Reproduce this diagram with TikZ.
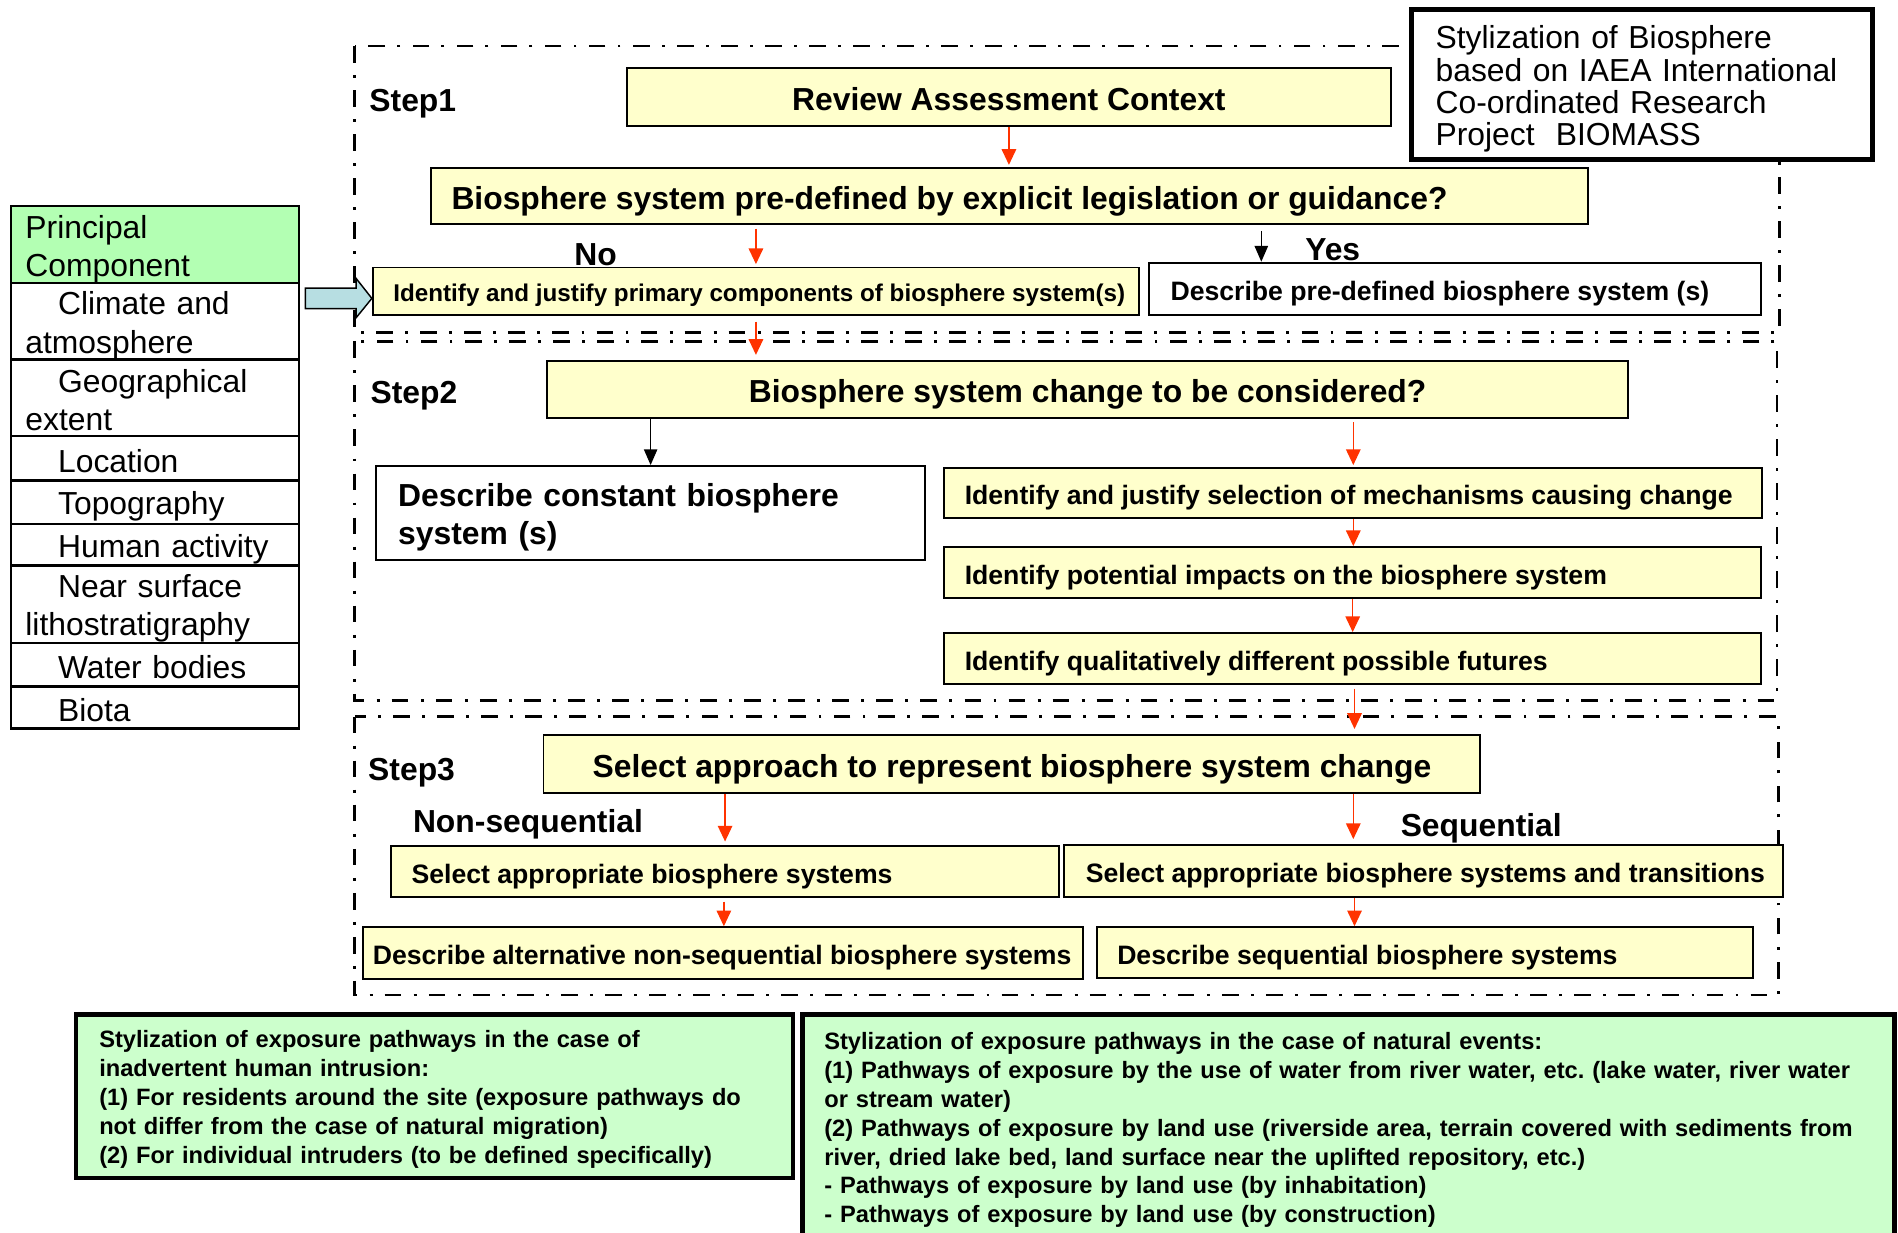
\documentclass[tikz,border=0pt]{standalone}
\usepackage{fontspec}
\setmainfont{Liberation Sans}
\usetikzlibrary{arrows.meta,calc}

\definecolor{boxyellow}{RGB}{255,255,204}
\definecolor{headgreen}{RGB}{179,255,179}
\definecolor{notegreen}{RGB}{204,255,204}
\definecolor{arrowred}{RGB}{255,51,0}
\definecolor{pointerblue}{RGB}{183,222,226}

\newcommand\sizeL{\fontsize{26.3}{31.5}\selectfont}
\newcommand\sizeM{\fontsize{22}{26}\selectfont}
\newcommand\sizeS{\fontsize{20}{24}\selectfont}
\newcommand\sizeN{\fontsize{19.55}{23.8}\selectfont}
% single line of text, left aligned in a box of fixed width
\newcommand\lalign[2]{\makebox[#1][l]{#2}}
% invisible struts setting the height of the first and the depth of the last line
\newcommand\tstr{\rule{0pt}{1.0em}}
\newcommand\bstr{\rule[-0.12em]{0pt}{0.12em}}
\frenchspacing

\begin{document}
\begin{tikzpicture}[x=1pt,y=-1pt,
  frame/.style={line width=2.4pt, dash pattern=on 13.8pt off 10.2pt on 2.4pt off 10pt},
  ybox/.style={draw, line width=1.6pt, fill=boxyellow, inner sep=0pt},
  wbox/.style={draw, line width=1.6pt, fill=white, inner sep=0pt},
  bigtxt/.style={font=\sizeL\bfseries, text height=25.8pt, text depth=3.6pt},
  midtxt/.style={font=\sizeM\bfseries, text height=21.9pt, text depth=2.7pt},
  smltxt/.style={font=\sizeS\bfseries, text height=20.1pt, text depth=2.2pt},
  lbl/.style={inner sep=0pt, font=\sizeL\bfseries, text height=25.8pt, text depth=3.6pt},
  pcrow/.style={draw, line width=2pt, fill=white, minimum width=238pt,
    text width=214pt, inner sep=0pt, align=left, font=\sizeL},
  notebox/.style={draw, line width=3.5pt, fill=notegreen, inner sep=0pt,
    align=left, font=\sizeN\bfseries},
  rarr/.style={draw=arrowred, line width=1.2pt, -{Triangle[length=13pt,width=12pt,fill=arrowred]}},
  barr/.style={draw=black, line width=1.2pt, -{Triangle[length=13pt,width=11pt]}},
]
\useasboundingbox (0,0) rectangle (1568,1018);

% step frames
\draw[frame] (293,38) rectangle (1470,275);
\draw[frame] (293,282) rectangle (1468,579);
\draw[frame] (293,592) rectangle (1469,822);

% title box
\node[draw, line width=4pt, fill=white, inner sep=0pt, minimum width=381pt,
  minimum height=124pt, text width=341pt, align=left,
  font=\fontsize{26.3}{26.7}\selectfont] (title) at (1356.5,70)
  {\tstr Stylization of Biosphere\\based on IAEA International\\Co-ordinated Research\\Project~ BIOMASS\bstr};

% step labels
\node[lbl, anchor=west] (s1) at (305,81) {Step1};
\node[lbl, anchor=west] (s2) at (306,322) {Step2};
\node[lbl, anchor=west] (s3) at (304,634) {Step3};

% step 1
\node[ybox, bigtxt, minimum width=631pt, minimum height=48pt] (review) at (833.5,80)
  {Review Assessment Context};
\node[ybox, bigtxt, minimum width=956pt, minimum height=46pt] (question) at (834,162)
  {\lalign{922pt}{Biosphere system pre-defined by explicit legislation or guidance?}};
\node[lbl] (no) at (492,208) {No};
\node[lbl] (yes) at (1101,204) {Yes};
\node[ybox, smltxt, minimum width=633pt, minimum height=39pt] (prim) at (624.5,240.5)
  {\lalign{599pt}{Identify and justify primary components of biosphere system(s)}};
\node[wbox, midtxt, minimum width=506pt, minimum height=43pt] (predef) at (1202,238.5)
  {\lalign{470pt}{Describe pre-defined biosphere system (s)}};

% step 2
\node[ybox, bigtxt, minimum width=893pt, minimum height=47pt] (change) at (898.5,321.5)
  {Biosphere system change to be considered?};
\node[wbox, font=\sizeL\bfseries, minimum width=453pt, minimum height=78pt, text width=417pt, align=left] (constant) at (537.5,424)
  {\tstr Describe constant biosphere\\system (s)\bstr};
\node[ybox, midtxt, minimum width=676pt, minimum height=41pt] (mech) at (1118,407.5)
  {\lalign{642pt}{Identify and justify selection of mechanisms causing change}};
\node[ybox, midtxt, minimum width=675pt, minimum height=42pt] (impacts) at (1117.5,473)
  {\lalign{641pt}{Identify potential impacts on the biosphere system}};
\node[ybox, midtxt, minimum width=675pt, minimum height=42pt] (futures) at (1117.5,544)
  {\lalign{641pt}{Identify qualitatively different possible futures}};

% step 3
\node[ybox, bigtxt, minimum width=774pt, minimum height=48pt] (approach) at (836,631)
  {Select approach to represent biosphere system change};
\node[lbl, anchor=west] (nonseq) at (341,677) {Non-sequential};
\node[lbl, anchor=west] (seq) at (1157,680) {Sequential};
\node[ybox, midtxt, minimum width=552pt, minimum height=42pt] (selA) at (599,720)
  {\lalign{518pt}{Select appropriate biosphere systems}};
\node[ybox, midtxt, minimum width=594pt, minimum height=43pt] (selB) at (1176,719.5)
  {\lalign{558pt}{Select appropriate biosphere systems and transitions}};
\node[ybox, midtxt, minimum width=595pt, minimum height=43pt] (descA) at (597.5,787.5)
  {\lalign{579pt}{Describe alternative non-sequential biosphere systems}};
\node[ybox, midtxt, minimum width=542pt, minimum height=42pt] (descB) at (1177,787)
  {\lalign{508pt}{Describe sequential biosphere systems}};

% principal component table
\node[pcrow, fill=headgreen, minimum height=64pt] (pc-head) at (128,202) {\tstr Principal\\Component\bstr};
\node[pcrow, minimum height=63pt] (pc-climate) at (128,265.5) {\tstr\hspace*{27pt}Climate and\\atmosphere\bstr};
\node[pcrow, minimum height=63pt] (pc-geo) at (128,328.5) {\tstr\hspace*{27pt}Geographical\\extent\bstr};
\node[pcrow, minimum height=37pt] (pc-loc) at (128,378.5) {\tstr\hspace*{27pt}Location\bstr};
\node[pcrow, minimum height=36pt] (pc-topo) at (128,415) {\tstr\hspace*{27pt}Topography\bstr};
\node[pcrow, minimum height=34pt] (pc-human) at (128,450) {\tstr\hspace*{27pt}Human activity\bstr};
\node[pcrow, minimum height=64pt] (pc-near) at (128,499) {\tstr\hspace*{27pt}Near surface\\lithostratigraphy\bstr};
\node[pcrow, minimum height=36pt] (pc-water) at (128,549) {\tstr\hspace*{27pt}Water bodies\bstr};
\node[pcrow, minimum height=35pt] (pc-biota) at (128,584.5) {\tstr\hspace*{27pt}Biota\bstr};

% pointer from the table into step 1
\coordinate (btip) at ([yshift=-6pt]prim.west);
\draw[line width=1.2pt, fill=pointerblue] (btip) -- ++(-13,-16.5) -- ++(0,8) -- ++(-42,0)
  -- ++(0,17) -- ++(42,0) -- ++(0,7.5) -- cycle;

% exposure pathway notes
\node[notebox, minimum width=592pt, minimum height=135pt, text width=554pt] (intr) at (359,905.5)
  {\tstr Stylization of exposure pathways in the case of\\
   inadvertent human intrusion:\\
   (1) For residents around the site (exposure pathways do\\
   not differ from the case of natural migration)\\
   (2) For individual intruders (to be defined specifically)\bstr};
\node[notebox, minimum width=902pt, minimum height=186pt, text width=866pt] (natural) at (1114,931)
  {\tstr Stylization of exposure pathways in the case of natural events:\\
   (1) Pathways of exposure by the use of water from river water, etc. (lake water, river water\\
   or stream water)\\
   (2) Pathways of exposure by land use (riverside area, terrain covered with sediments from\\
   river, dried lake bed, land surface near the uplifted repository, etc.)\\
   - Pathways of exposure by land use (by inhabitation)\\
   - Pathways of exposure by land use (by construction)\bstr};

% connectors
\draw[rarr, shorten >=2pt] (review.south) -- (review.south |- question.north);
\draw[rarr, shorten <=3pt, shorten >=2pt] (question.south -| prim.north) -- (prim.north);
\draw[barr, shorten <=5pt] (question.south -| 1042,0) -- (1042,0 |- predef.north);
\draw[rarr, shorten <=5pt, shorten >=4pt] (prim.south) -- (prim.south |- change.north);
\draw[barr] (change.south -| constant.north) -- (constant.north);
\draw[rarr, shorten <=3pt, shorten >=2pt] (change.south -| mech.north) -- (mech.north);
\draw[rarr] (mech.south) -- (mech.south |- impacts.north);
\draw[rarr] (impacts.south) -- (impacts.south |- futures.north);
\draw[rarr, shorten <=3pt, shorten >=4pt] (1119,0 |- futures.south) -- (1119,0 |- approach.north);
\draw[rarr, shorten >=3pt] (approach.south -| selA.north) -- (selA.north);
\draw[rarr, shorten >=4pt] (approach.south -| 1118,0) -- (1118,0 |- selB.north);
\draw[rarr, shorten <=3pt] (598,0 |- selA.south) -- (598,0 |- descA.north);
\draw[rarr] (1119,0 |- selB.south) -- (1119,0 |- descB.north);
\end{tikzpicture}
\end{document}
